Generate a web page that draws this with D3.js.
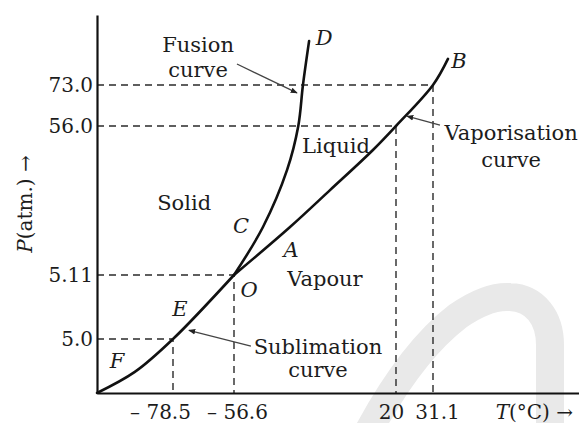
<!DOCTYPE html>
<html>
<head>
<meta charset="utf-8">
<script src="https://cdn.jsdelivr.net/npm/d3@7"></script>
<style>
  html, body { margin: 0; padding: 0; background: #fff; }
  svg { display: block; }
  text { font-family: "DejaVu Serif", "Liberation Serif", serif; fill: #1c1c1c; }
</style>
</head>
<body>
<svg id="chart" width="579" height="423"></svg>
<script>
// Temperature (°C) and pressure (atm) values marked on the axes
const tempTicks = [-78.5, -56.6, 20, 31.1];
const tempTickLabels = ["\u2013 78.5", "\u2013 56.6", "20", "31.1"];
const presTicks = [5.0, 5.11, 56.0, 73.0];
const presTickLabels = ["5.0", "5.11", "56.0", "73.0"];

// Axis extents (the diagram is schematic, not to scale)
const tempRange = [-100, 75];
const presRange = [4.9, 102];

// Phase boundaries of CO2 as (T, P) points
const sublimationCurve = [[-100, 4.9], [-89.3, 4.939], [-78.5, 5.0], [-56.6, 5.11]];
const vaporisationCurve = [[-56.6, 5.11], [-30.1, 21.5], [-11.2, 34.1], [9.1, 47.8], [20, 56], [31.1, 73], [35.6, 83.8]];
const fusionCurve = [[-56.6, 5.11], [-42.9, 21.5], [-31.5, 41], [-26.2, 56], [-24.0, 73], [-21.1, 91.2]];

// Marked points, each with dashed lines dropped to both axes
const guidePoints = [[-78.5, 5.0], [-56.6, 5.11], [20, 56], [31.1, 73]];

// Region names
const regionNames = ["Solid", "Liquid", "Vapour"];
const regionAt = [[-74.5, 27.3], [-8.4, 46.8], [-13.6, 5.091]];

// Point letters
const pointNames = ["D", "B", "C", "A", "O", "E", "F"];
const pointAt = [[-14.0, 89.6], [38.9, 80.0], [-53.3, 19.4], [-29.6, 11.3], [-49.5, 5.072], [-76.0, 5.040], [-94.3, 4.946]];

// Curve callouts: text anchor, arrow tail and arrow head
const calloutLines = [["Fusion", "curve"], ["Vaporisation", "curve"], ["Sublimation", "curve"]];
const calloutAt = [[-69.5, 86.7], [54.6, 51.2], [-16.9, 4.972]];
const calloutFrom = [[-55.2, 81.7], [33.2, 56.4], [-48.6, 4.987]];
const calloutTo = [[-26.8, 69.7], [23.3, 60.1], [-72.8, 5.015]];

// ---- layout ----
const svg = d3.select("#chart");
const xStops = [97, 173, 234, 396, 433, 579];
const yStops = [393, 339, 275, 126, 85, 15];
const x = d3.scaleLinear().domain([tempRange[0], ...tempTicks, tempRange[1]]).range(xStops);
const y = d3.scaleLinear().domain([presRange[0], ...presTicks, presRange[1]]).range(yStops);
const labelFont = 21, numberFont = 20;
const tickShift = [-13, 3, -5, 4];
const calloutGap = [25, 27, 23];

// faint background emblem
svg.append("path")
  .attr("d", () => {
    const p = d3.path();
    p.moveTo(368, 432);
    p.bezierCurveTo(388, 395, 420, 345, 458, 316);
    p.bezierCurveTo(478, 302, 495, 296, 510, 297);
    p.bezierCurveTo(535, 298, 550, 318, 550, 345);
    p.lineTo(550, 432);
    return p.toString();
  })
  .attr("fill", "none")
  .attr("stroke", "#e9e9e9")
  .attr("stroke-width", 28);

// dashed guides
svg.append("g").selectAll("path").data(guidePoints).join("path")
  .attr("d", d => `M${x(tempRange[0])},${y(d[1])}H${x(d[0])}V${y(presRange[0])}`)
  .attr("fill", "none")
  .attr("stroke", "#2a2a2a")
  .attr("stroke-width", 1.4)
  .attr("stroke-dasharray", "7,5");

// axes
const xAxis = svg.append("g")
  .attr("transform", `translate(0,${y(presRange[0])})`)
  .call(d3.axisBottom(x).tickValues(tempTicks).tickFormat((d, i) => tempTickLabels[i])
    .tickSize(0).tickSizeOuter(0).tickPadding(12));
const yAxis = svg.append("g")
  .attr("transform", `translate(${x(tempRange[0])},0)`)
  .call(d3.axisLeft(y).tickValues(presTicks).tickFormat((d, i) => presTickLabels[i])
    .tickSize(0).tickSizeOuter(0).tickPadding(4));
[xAxis, yAxis].forEach(g => {
  g.attr("font-family", null).attr("font-size", null);
  g.select(".domain").attr("stroke", "#111").attr("stroke-width", 2.2);
  g.selectAll(".tick text").attr("font-size", numberFont).attr("fill", "#1c1c1c");
});
xAxis.selectAll(".tick text").attr("dx", (d, i) => tickShift[i]);

// axis titles
svg.append("text")
  .attr("x", x(tempRange[1]) - 6).attr("y", y(presRange[0]) + 26)
  .attr("text-anchor", "end").attr("font-size", numberFont)
  .call(t => {
    t.append("tspan").attr("font-style", "italic").text("T");
    t.append("tspan").text("(\u00b0C) \u2192");
  });
svg.append("text")
  .attr("transform", `translate(32,${(y(presRange[0]) + y(presRange[1])) / 2})rotate(-90)`)
  .attr("text-anchor", "middle").attr("font-size", numberFont)
  .call(t => {
    t.append("tspan").attr("font-style", "italic").text("P");
    t.append("tspan").text("(atm.) \u2192");
  });

// phase boundaries
const line = d3.line().x(d => x(d[0])).y(d => y(d[1])).curve(d3.curveCatmullRom.alpha(0.5));
svg.append("g").selectAll("path").data([sublimationCurve, vaporisationCurve, fusionCurve]).join("path")
  .attr("d", line)
  .attr("fill", "none")
  .attr("stroke", "#111")
  .attr("stroke-width", 2.6)
  .attr("stroke-linecap", "round");

// region names
svg.append("g").selectAll("text").data(regionNames).join("text")
  .attr("x", (d, i) => x(regionAt[i][0]))
  .attr("y", (d, i) => y(regionAt[i][1]))
  .attr("text-anchor", "middle")
  .attr("font-size", labelFont)
  .text(d => d);

// point letters
svg.append("g").selectAll("text").data(pointNames).join("text")
  .attr("x", (d, i) => x(pointAt[i][0]))
  .attr("y", (d, i) => y(pointAt[i][1]))
  .attr("text-anchor", "middle")
  .attr("font-size", labelFont)
  .attr("font-style", "italic")
  .text(d => d);

// callouts
svg.append("defs").append("marker")
  .attr("id", "head")
  .attr("viewBox", "0 0 10 10")
  .attr("refX", 9).attr("refY", 5)
  .attr("markerWidth", 7).attr("markerHeight", 7)
  .attr("markerUnits", "userSpaceOnUse")
  .attr("orient", "auto")
  .append("path").attr("d", "M0,1L10,5L0,9Z").attr("fill", "#222");

svg.append("g").selectAll("line").data(calloutFrom).join("line")
  .attr("x1", d => x(d[0])).attr("y1", d => y(d[1]))
  .attr("x2", (d, i) => x(calloutTo[i][0])).attr("y2", (d, i) => y(calloutTo[i][1]))
  .attr("stroke", "#444")
  .attr("stroke-width", 1.3)
  .attr("marker-end", "url(#head)");

const callouts = svg.append("g").selectAll("text").data(calloutLines).join("text")
  .attr("text-anchor", "middle")
  .attr("font-size", labelFont);
callouts.each(function (lines, i) {
  d3.select(this).selectAll("tspan").data(lines).join("tspan")
    .attr("x", x(calloutAt[i][0]))
    .attr("y", (d, j) => y(calloutAt[i][1]) + j * calloutGap[i])
    .text(d => d);
});
</script>
</body>
</html>
